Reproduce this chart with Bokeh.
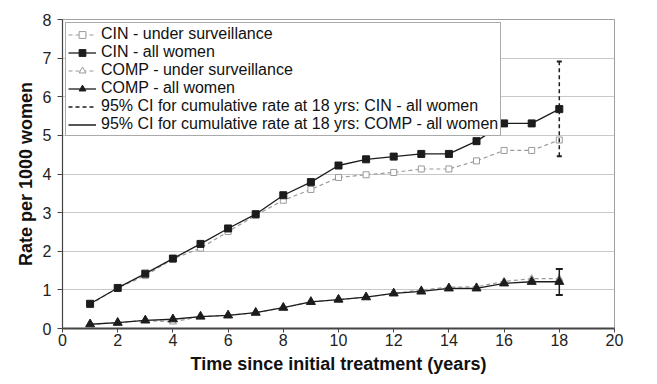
from bokeh.plotting import figure
from bokeh.models import ColumnDataSource, Legend, LegendItem, Range1d, FixedTicker
from bokeh.embed import file_html
from bokeh.resources import INLINE

years = list(range(1, 19))
cin_surv = [0.62, 1.05, 1.37, 1.80, 2.08, 2.51, 2.93, 3.32, 3.60, 3.91, 3.98, 4.04, 4.13, 4.13, 4.34, 4.61, 4.61, 4.88]
cin_all = [0.64, 1.05, 1.42, 1.81, 2.19, 2.59, 2.96, 3.45, 3.79, 4.22, 4.38, 4.45, 4.52, 4.52, 4.85, 5.31, 5.31, 5.68]
comp_surv = [0.11, 0.15, 0.21, 0.17, 0.31, 0.34, 0.41, 0.54, 0.69, 0.75, 0.81, 0.91, 1.00, 1.07, 1.08, 1.22, 1.29, 1.29]
comp_all = [0.11, 0.15, 0.21, 0.24, 0.31, 0.34, 0.41, 0.54, 0.69, 0.75, 0.81, 0.91, 0.96, 1.04, 1.04, 1.17, 1.21, 1.21]

ci_year = [18]
cin_ci_low = [4.46]
cin_ci_high = [6.91]
comp_ci_low = [0.87]
comp_ci_high = [1.54]

x_ticks = [0, 2, 4, 6, 8, 10, 12, 14, 16, 18, 20]
y_ticks = [0, 1, 2, 3, 4, 5, 6, 7, 8]

FONT = "Liberation Sans"

p = figure(width=649, height=376, output_backend="svg", toolbar_location=None,
           x_range=Range1d(0, 20), y_range=Range1d(0, 8),
           min_border_left=62, min_border_right=35, min_border_top=19, min_border_bottom=47)

p.outline_line_color = "#a0a0a0"
p.outline_line_width = 1
p.background_fill_color = "white"
p.border_fill_color = "white"

p.xgrid.grid_line_color = None
p.ygrid.grid_line_color = "#c8c8c8"
p.ygrid.grid_line_width = 1

p.xaxis.ticker = FixedTicker(ticks=x_ticks)
p.yaxis.ticker = FixedTicker(ticks=y_ticks)
for ax in (p.xaxis[0], p.yaxis[0]):
    ax.minor_tick_line_color = None
    ax.major_tick_in = 0
    ax.major_tick_out = 4
    ax.major_label_text_font = FONT
    ax.major_label_text_font_size = "16px"
    ax.major_label_text_color = "#222222"
    ax.axis_label_text_font = FONT
    ax.axis_label_text_font_size = "18px"
    ax.axis_label_text_font_style = "bold"
    ax.axis_label_text_color = "#111111"
    ax.axis_line_color = "#444444"
    ax.major_tick_line_color = "#444444"
p.yaxis.major_tick_out = 5
p.xaxis.axis_line_width = 2
p.yaxis.axis_line_width = 1.2
p.xaxis.axis_label = "Time since initial treatment (years)"
p.yaxis.axis_label = "Rate per 1000 women"
p.xaxis.axis_label_standoff = 5
p.yaxis.axis_label_standoff = 4
p.xaxis.major_label_standoff = 1
p.yaxis.major_label_standoff = 6

src = ColumnDataSource(dict(x=years, cin_surv=cin_surv, cin_all=cin_all,
                            comp_surv=comp_surv, comp_all=comp_all))
ci_src = ColumnDataSource(dict(x=ci_year, cin_lo=cin_ci_low, cin_hi=cin_ci_high,
                               comp_lo=comp_ci_low, comp_hi=comp_ci_high))

GRAY = "#9a9a9a"
DARK = "#1c1c1c"

l_cs = p.line("x", "cin_surv", source=src, line_color=GRAY, line_width=1.2, line_dash="4 3")
m_cs = p.scatter("x", "cin_surv", source=src, marker="square", size=6, line_color=GRAY,
                 fill_color="white", line_width=1)
l_ps = p.line("x", "comp_surv", source=src, line_color=GRAY, line_width=1.2, line_dash="4 3")
m_ps = p.scatter("x", "comp_surv", source=src, marker="triangle", size=7, line_color=GRAY,
                 fill_color="white", line_width=1)

l_ca = p.line("x", "cin_all", source=src, line_color=DARK, line_width=1.3)
m_ca = p.scatter("x", "cin_all", source=src, marker="square", size=7, line_color=DARK, fill_color=DARK)
l_pa = p.line("x", "comp_all", source=src, line_color=DARK, line_width=1.3)
m_pa = p.scatter("x", "comp_all", source=src, marker="triangle", size=9, line_color=DARK, fill_color=DARK)

ci1 = p.segment(x0="x", y0="cin_lo", x1="x", y1="cin_hi", source=ci_src, line_color=DARK,
                line_width=1.5, line_dash="4 3")
c1a = p.scatter("x", "cin_lo", source=ci_src, marker="dash", size=5, line_color=DARK, line_width=2)
c1b = p.scatter("x", "cin_hi", source=ci_src, marker="dash", size=5, line_color=DARK, line_width=2)
ci2 = p.segment(x0="x", y0="comp_lo", x1="x", y1="comp_hi", source=ci_src, line_color=DARK,
                line_width=1.5)
c2a = p.scatter("x", "comp_lo", source=ci_src, marker="dash", size=7, line_color=DARK, line_width=2)
c2b = p.scatter("x", "comp_hi", source=ci_src, marker="dash", size=7, line_color=DARK, line_width=2)

items = [
    LegendItem(label="CIN - under surveillance", renderers=[l_cs, m_cs]),
    LegendItem(label="CIN - all women", renderers=[l_ca, m_ca]),
    LegendItem(label="COMP - under surveillance", renderers=[l_ps, m_ps]),
    LegendItem(label="COMP - all women", renderers=[l_pa, m_pa]),
    LegendItem(label="95% CI for cumulative rate at 18 yrs: CIN - all women", renderers=[ci1]),
    LegendItem(label="95% CI for cumulative rate at 18 yrs: COMP - all women", renderers=[ci2]),
]
legend = Legend(items=items, location="top_left")
legend.margin = 3
legend.padding = 2
legend.spacing = 0
legend.label_text_font = FONT
legend.label_text_font_size = "16px"
legend.label_text_color = "#111111"
legend.label_height = 17
legend.glyph_height = 17
legend.glyph_width = 28
legend.label_standoff = 5
legend.border_line_color = "#555555"
legend.border_line_width = 1.5
legend.background_fill_alpha = 1
p.add_layout(legend)

open("out.html", "w").write(file_html(p, INLINE))
